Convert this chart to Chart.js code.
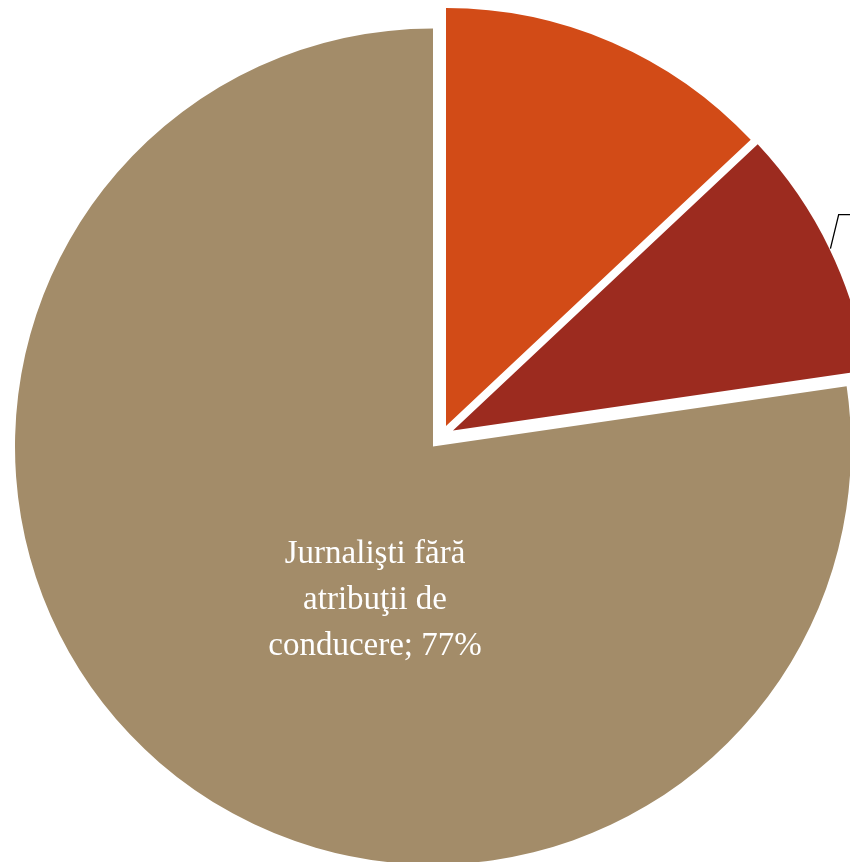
<!DOCTYPE html>
<html>
<head>
<meta charset="utf-8">
<script src="https://cdn.jsdelivr.net/npm/chart.js@4/dist/chart.umd.min.js"></script>
<style>
  html, body { margin: 0; padding: 0; background: #ffffff; overflow: hidden; }
  #wrap { width: 850px; height: 862px; position: relative; }
</style>
</head>
<body>
<div id="wrap"><canvas id="c" width="850" height="862"></canvas></div>
<script>
// ---- data ----
const categories = ["Redactori-şefi", "Şefi de secţie / departament", "Jurnalişti fără atribuţii de conducere"];
const shares = [13, 9.7, 77.3];          // percent
const sliceColors = ["#D24B17", "#9C2B1F", "#A38C69"];
const showInsideLabel = [false, false, true];
const showLeader = [false, true, false];

// ---- styles ----
const PIE_RADIUS = 418;
const EXPLODE = [ { dx: 13, dy: -20.5 }, { dx: 20, dy: -16 }, { dx: 0, dy: 0 } ];   // slice explosion
const LABEL_FONT = "33px 'Liberation Serif', 'DejaVu Serif', serif";
const LABEL_LINE_H = 46;
const LABEL_MAX_W = 240;
const LABEL_ANCHOR = { dist: 164, angleDeg: 200.7 };   // from slice center, clockwise from top
const LEADER = { elbowExtra: 24, elbowTurnDeg: -3.5, tail: 60 };

const explodePlugin = {
  id: 'explode',
  afterDatasetUpdate(chart, args) {
    const meta = args.meta;
    meta.data.forEach((arc, i) => {
      const e = EXPLODE[i] || { dx: 0, dy: 0 };
      arc.x += e.dx;
      arc.y += e.dy;
    });
  }
};

function wrapText(ctx, text, maxW) {
  const words = text.split(' ');
  const lines = [];
  let cur = '';
  words.forEach(w => {
    const test = cur ? cur + ' ' + w : w;
    if (ctx.measureText(test).width > maxW && cur) { lines.push(cur); cur = w; }
    else cur = test;
  });
  if (cur) lines.push(cur);
  return lines;
}

const labelPlugin = {
  id: 'sliceLabels',
  afterDatasetsDraw(chart) {
    const ctx = chart.ctx;
    const meta = chart.getDatasetMeta(0);
    meta.data.forEach((arc, i) => {
      const R = arc.outerRadius;
      const mid = (arc.startAngle + arc.endAngle) / 2;
      if (showInsideLabel[i]) {
        const a = LABEL_ANCHOR.angleDeg * Math.PI / 180;
        const cx = arc.x + Math.sin(a) * LABEL_ANCHOR.dist;
        const cy = arc.y - Math.cos(a) * LABEL_ANCHOR.dist;
        ctx.save();
        ctx.font = LABEL_FONT;
        ctx.fillStyle = '#ffffff';
        ctx.textAlign = 'center';
        ctx.textBaseline = 'middle';
        const lines = wrapText(ctx, categories[i] + '; ' + Math.round(shares[i]) + '%', LABEL_MAX_W);
        const top = cy - (lines.length - 1) * LABEL_LINE_H / 2;
        lines.forEach((ln, k) => ctx.fillText(ln, cx, top + k * LABEL_LINE_H));
        ctx.restore();
      }
      if (showLeader[i]) {
        const sx = arc.x + Math.cos(mid) * (R + 1);
        const sy = arc.y + Math.sin(mid) * (R + 1);
        const ea = mid + LEADER.elbowTurnDeg * Math.PI / 180;
        const ex = arc.x + Math.cos(ea) * (R + LEADER.elbowExtra);
        const ey = arc.y + Math.sin(ea) * (R + LEADER.elbowExtra);
        ctx.save();
        ctx.strokeStyle = '#000000';
        ctx.lineWidth = 1.3;
        ctx.beginPath();
        ctx.moveTo(sx, sy);
        ctx.lineTo(ex, ey);
        ctx.lineTo(ex + LEADER.tail, ey);
        ctx.stroke();
        ctx.restore();
      }
    });
  }
};

new Chart(document.getElementById('c'), {
  type: 'pie',
  data: {
    labels: categories,
    datasets: [{
      data: shares,
      backgroundColor: sliceColors,
      borderWidth: 0,
      hoverOffset: 0,
      radius: PIE_RADIUS
    }]
  },
  options: {
    responsive: false,
    animation: false,
    events: [],
    radius: PIE_RADIUS,
    layout: { padding: { left: 16, top: 31, right: 0, bottom: 0 } },
    plugins: { legend: { display: false }, tooltip: { enabled: false } }
  },
  plugins: [explodePlugin, labelPlugin]
});
</script>
</body>
</html>
